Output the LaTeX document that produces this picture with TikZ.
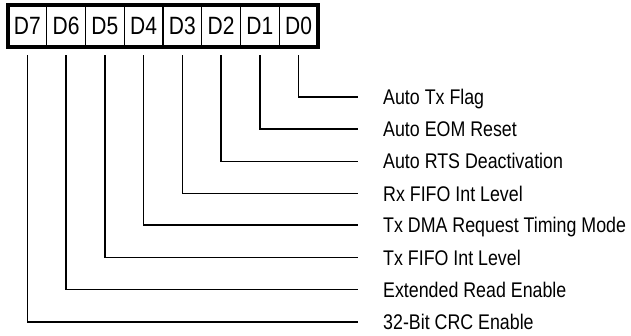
\documentclass[tikz,border=0pt]{standalone}
\usepackage{fontspec}
\setmainfont[FakeStretch=0.84]{Liberation Sans}
\usetikzlibrary{positioning}
\tikzset{
  bitcell/.style={draw=black, line width=1.3pt, outer sep=0pt, inner sep=0pt,
    minimum width=38.75pt, minimum height=42pt, font=\fontsize{25}{25}\selectfont},
  bitlabel/.style={anchor=west, inner sep=0pt, text height=15.2pt, text depth=0pt,
    font=\fontsize{21.2}{21.2}\selectfont},
  frame/.style={draw=black, line width=3.2pt},
  lead/.style={draw=black, line width=1.4pt}
}

\begin{document}
\begin{tikzpicture}[x=1pt,y=-1pt]
    \useasboundingbox (0,0) rectangle (631,335);
    \node[bitcell] (b7) at (27.375,26) {D7};
    \node[bitcell, right=0pt of b7] (b6) {D6};
    \node[bitcell, right=0pt of b6] (b5) {D5};
    \node[bitcell, right=0pt of b5] (b4) {D4};
    \node[bitcell, right=0pt of b4] (b3) {D3};
    \node[bitcell, right=0pt of b3] (b2) {D2};
    \node[bitcell, right=0pt of b2] (b1) {D1};
    \node[bitcell, right=0pt of b1] (b0) {D0};
    \draw[frame] (b7.north west) rectangle (b0.south east);
    \node[bitlabel] (l0) at (383,97) {Auto Tx Flag};
    \node[bitlabel] (l1) at (383,129.1) {Auto EOM Reset};
    \node[bitlabel] (l2) at (383,161.3) {Auto RTS Deactivation};
    \node[bitlabel] (l3) at (383,193.4) {Rx FIFO Int Level};
    \node[bitlabel] (l4) at (383,225) {Tx DMA Request Timing Mode};
    \node[bitlabel] (l5) at (383,257.4) {Tx FIFO Int Level};
    \node[bitlabel] (l6) at (383,289.6) {Extended Read Enable};
    \node[bitlabel] (l7) at (383,322) {32-Bit CRC Enable};
    \draw[lead] ([yshift=-8pt]b0.south) |- ([xshift=-25pt]l0.west);
    \draw[lead] ([yshift=-8pt]b1.south) |- ([xshift=-25pt]l1.west);
    \draw[lead] ([yshift=-8pt]b2.south) |- ([xshift=-25pt]l2.west);
    \draw[lead] ([yshift=-8pt]b3.south) |- ([xshift=-25pt]l3.west);
    \draw[lead] ([yshift=-8pt]b4.south) |- ([xshift=-25pt]l4.west);
    \draw[lead] ([yshift=-8pt]b5.south) |- ([xshift=-25pt]l5.west);
    \draw[lead] ([yshift=-8pt]b6.south) |- ([xshift=-25pt]l6.west);
    \draw[lead] ([yshift=-8pt]b7.south) |- ([xshift=-25pt]l7.west);
\end{tikzpicture}
\end{document}
